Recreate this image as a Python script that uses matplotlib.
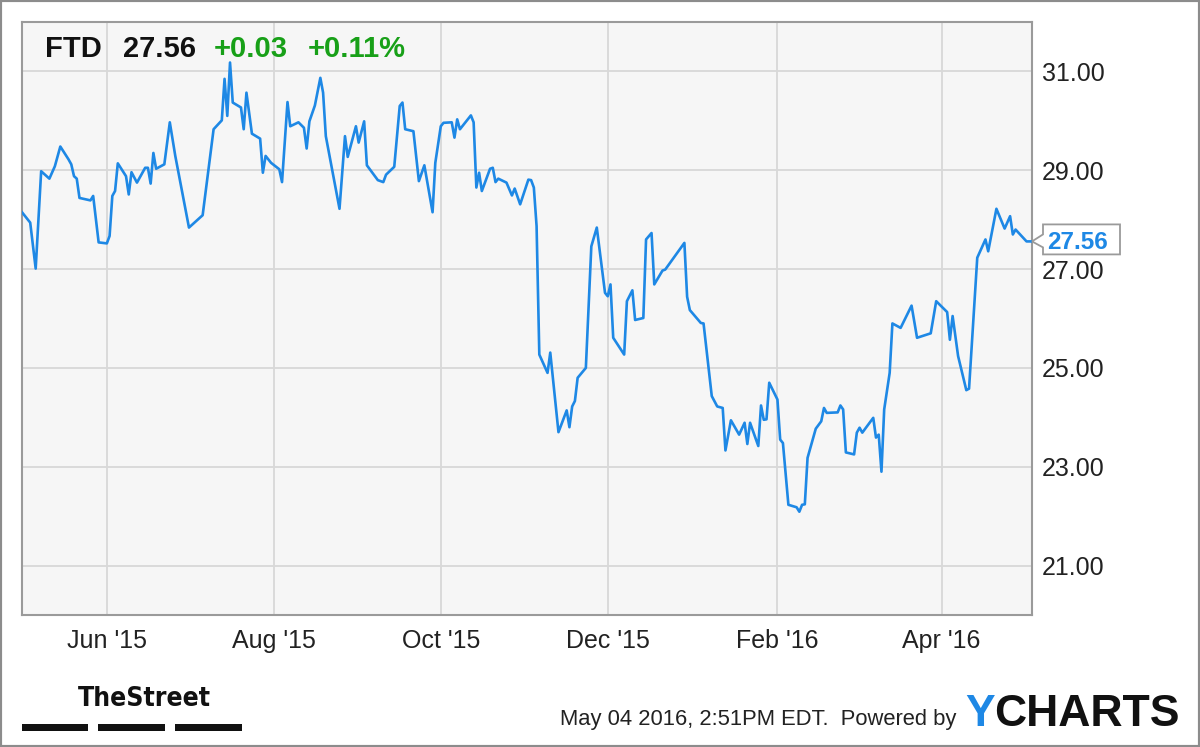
import matplotlib
matplotlib.use('Agg')
import matplotlib.pyplot as plt
import matplotlib.dates as mdates
import matplotlib.transforms as mtransforms
from matplotlib.patches import Polygon, Rectangle
import pandas as pd

plt.rcParams['font.family'] = ['Liberation Sans', 'DejaVu Sans']

# FTD daily close
dates = ['2015-05-01', '2015-05-04', '2015-05-06', '2015-05-08', '2015-05-11', '2015-05-13', '2015-05-15',
         '2015-05-18', '2015-05-19', '2015-05-20', '2015-05-21', '2015-05-22', '2015-05-26', '2015-05-27',
         '2015-05-29',
         '2015-06-01', '2015-06-02', '2015-06-03', '2015-06-04', '2015-06-05', '2015-06-08', '2015-06-09',
         '2015-06-10', '2015-06-12', '2015-06-15', '2015-06-16', '2015-06-17', '2015-06-18', '2015-06-19',
         '2015-06-22', '2015-06-24', '2015-06-26',
         '2015-07-01', '2015-07-06', '2015-07-10', '2015-07-13', '2015-07-14', '2015-07-15', '2015-07-16',
         '2015-07-17', '2015-07-20', '2015-07-21', '2015-07-22', '2015-07-24', '2015-07-27', '2015-07-28',
         '2015-07-29', '2015-07-31',
         '2015-08-03', '2015-08-04', '2015-08-06', '2015-08-07', '2015-08-10', '2015-08-12', '2015-08-13',
         '2015-08-14', '2015-08-16', '2015-08-18', '2015-08-19', '2015-08-20', '2015-08-25', '2015-08-27',
         '2015-08-28', '2015-08-31',
         '2015-09-01', '2015-09-03', '2015-09-04', '2015-09-08', '2015-09-10', '2015-09-11', '2015-09-14',
         '2015-09-16', '2015-09-17', '2015-09-18', '2015-09-21', '2015-09-23', '2015-09-25', '2015-09-28',
         '2015-09-29',
         '2015-10-01', '2015-10-02', '2015-10-05', '2015-10-06', '2015-10-07', '2015-10-08', '2015-10-12',
         '2015-10-13', '2015-10-14', '2015-10-15', '2015-10-16', '2015-10-19', '2015-10-20', '2015-10-21',
         '2015-10-22', '2015-10-25', '2015-10-27', '2015-10-28', '2015-10-30',
         '2015-11-02', '2015-11-03', '2015-11-04', '2015-11-05', '2015-11-06', '2015-11-09', '2015-11-10',
         '2015-11-13', '2015-11-16', '2015-11-17', '2015-11-18', '2015-11-19', '2015-11-20', '2015-11-23',
         '2015-11-25', '2015-11-27', '2015-11-30',
         '2015-12-01', '2015-12-02', '2015-12-03', '2015-12-07', '2015-12-08', '2015-12-10', '2015-12-11',
         '2015-12-14', '2015-12-15', '2015-12-17', '2015-12-18', '2015-12-21', '2015-12-22', '2015-12-29',
         '2015-12-30', '2015-12-31',
         '2016-01-04', '2016-01-05', '2016-01-08', '2016-01-10', '2016-01-12', '2016-01-13', '2016-01-15',
         '2016-01-18', '2016-01-20', '2016-01-21', '2016-01-22', '2016-01-25', '2016-01-26', '2016-01-27',
         '2016-01-28', '2016-01-29',
         '2016-02-01', '2016-02-02', '2016-02-03', '2016-02-05', '2016-02-08', '2016-02-09', '2016-02-10',
         '2016-02-11', '2016-02-12', '2016-02-15', '2016-02-17', '2016-02-18', '2016-02-19', '2016-02-23',
         '2016-02-24', '2016-02-25', '2016-02-26', '2016-02-29',
         '2016-03-01', '2016-03-02', '2016-03-03', '2016-03-07', '2016-03-08', '2016-03-09', '2016-03-10',
         '2016-03-11', '2016-03-13', '2016-03-14', '2016-03-17', '2016-03-21', '2016-03-23', '2016-03-28',
         '2016-03-30',
         '2016-04-03', '2016-04-04', '2016-04-05', '2016-04-07', '2016-04-10', '2016-04-11', '2016-04-13',
         '2016-04-14', '2016-04-17', '2016-04-18', '2016-04-21', '2016-04-24', '2016-04-26', '2016-04-27',
         '2016-04-28',
         '2016-05-02', '2016-05-04']

prices = [28.15, 27.94, 27.01, 28.98, 28.83, 29.08, 29.48, 29.22, 29.12, 28.88, 28.83, 28.44, 28.39, 28.48, 27.54,
          27.52, 27.67, 28.48, 28.58, 29.14, 28.88, 28.51, 28.96, 28.75, 29.05, 29.05, 28.73, 29.35, 29.03, 29.12,
          29.97, 29.29,
          27.84, 28.09, 29.83, 30.01, 30.85, 30.10, 31.18, 30.37, 30.27, 29.83, 30.57, 29.74, 29.64, 28.95, 29.29,
          29.15,
          29.02, 28.76, 30.38, 29.89, 29.97, 29.86, 29.44, 29.99, 30.31, 30.87, 30.57, 29.69, 28.22, 29.69, 29.27,
          29.89,
          29.56, 29.99, 29.10, 28.80, 28.76, 28.91, 29.07, 30.30, 30.37, 29.83, 29.79, 28.78, 29.10, 28.15, 29.15,
          29.89, 29.96, 29.97, 29.66, 30.03, 29.83, 30.11, 29.97, 28.65, 28.95, 28.58, 29.03, 29.05, 28.76, 28.83,
          28.75, 28.49, 28.63, 28.31,
          28.81, 28.80, 28.65, 27.87, 25.27, 24.90, 25.31, 23.70, 24.14, 23.80, 24.22, 24.33, 24.80, 25.00, 27.46,
          27.84, 26.52,
          26.45, 26.69, 25.61, 25.27, 26.35, 26.57, 25.97, 26.01, 27.60, 27.73, 26.69, 26.97, 26.99, 27.53, 26.44,
          26.17,
          25.91, 25.90, 24.43, 24.22, 24.19, 23.33, 23.94, 23.65, 23.89, 23.46, 23.89, 23.42, 24.24, 23.95, 23.96,
          24.70,
          24.36, 23.55, 23.48, 22.23, 22.18, 22.09, 22.23, 22.24, 23.18, 23.77, 23.92, 24.19, 24.09, 24.10, 24.24,
          24.16, 23.29, 23.25,
          23.69, 23.79, 23.69, 23.99, 23.59, 23.65, 22.90, 24.16, 24.90, 25.90, 25.81, 26.26, 25.61, 25.70, 26.35,
          26.13, 25.57, 26.05, 25.24, 24.55, 24.58, 26.35, 27.23, 27.60, 27.36, 28.22, 27.82, 28.07, 27.70, 27.80,
          27.56, 27.56]

ticker = 'FTD'
last_price = 27.56
change = '+0.03'
change_pct = '+0.11%'
yticks = [21, 23, 25, 27, 29, 31]

BLUE = '#1e88e5'
GREEN = '#18a018'

fig = plt.figure(figsize=(12, 7.47), dpi=100)
W, H = 1200, 747
ax = fig.add_axes([22 / W, 1 - 615 / H, (1032 - 22) / W, (615 - 22) / H])
ax.set_facecolor('#f6f6f6')

x = pd.to_datetime(dates)
ax.plot(x, prices, color=BLUE, lw=1.9, solid_joinstyle='round', zorder=3)

ax.set_xlim(pd.Timestamp('2015-05-01'), pd.Timestamp('2016-05-04'))
ax.set_ylim(20.0, 32.0)

ax.yaxis.tick_right()
ax.set_yticks(yticks)
ax.set_yticklabels(['%.2f' % v for v in yticks])
ax.xaxis.set_major_locator(mdates.MonthLocator(bymonth=[2, 4, 6, 8, 10, 12]))
ax.xaxis.set_major_formatter(mdates.DateFormatter("%b '%y"))
ax.tick_params(axis='both', length=0, labelsize=18, labelcolor='#222222')
ax.tick_params(axis='y', pad=7)
ax.tick_params(axis='x', pad=10)

ax.grid(True, color='#d8d8d8', lw=1.3, zorder=0)
ax.set_axisbelow(True)
for s in ax.spines.values():
    s.set_color('#9a9a9a')
    s.set_linewidth(1.5)

# price callout on the right axis, anchored at (right spine, last price)
tip = mtransforms.blended_transform_factory(ax.transAxes, ax.transData)
pts = [(0, 0), (11, 7), (11, 17), (88, 17), (88, -13), (11, -13), (11, -6)]
base = tip.transform((1.0, last_price))
poly = Polygon([(base[0] + px, base[1] + py) for px, py in pts], closed=True, facecolor='white',
               edgecolor='#9a9a9a', lw=1.3, clip_on=False, zorder=6, transform=mtransforms.IdentityTransform())
ax.add_artist(poly)
ax.annotate('%.2f' % last_price, xy=(1.0, last_price), xycoords=tip, xytext=(15 * 0.72, -0.5),
            textcoords='offset points', ha='left', va='center', fontsize=17.5, fontweight='bold',
            color=BLUE, zorder=7, annotation_clip=False)

# header
hy = 1 - 49 / H
fig.text(45 / W, hy, ticker, fontsize=21, fontweight='bold', color='#111111', va='center')
fig.text(123 / W, hy, '%.2f' % last_price, fontsize=21, fontweight='bold', color='#111111', va='center')
fig.text(214 / W, hy, change, fontsize=21, fontweight='bold', color=GREEN, va='center')
fig.text(308 / W, hy, change_pct, fontsize=21, fontweight='bold', color=GREEN, va='center')

# TheStreet logo
fig.text(78 / W, 1 - 699 / H, 'TheStreet', fontsize=19, fontweight='bold', color='#111111', va='center',
         family='DejaVu Sans', fontstretch='condensed')
for x0, x1 in [(22, 88), (98, 165), (175, 242)]:
    fig.patches.append(Rectangle((x0 / W, 1 - 731 / H), (x1 - x0) / W, 7 / H, transform=fig.transFigure,
                                 facecolor='#111111', edgecolor='none'))

# footer
fig.text(560 / W, 1 - 719 / H, 'May 04 2016, 2:51PM EDT.  Powered by', fontsize=15.8, color='#222222',
         va='center')
fig.canvas.draw()
r = fig.canvas.get_renderer()
ty = fig.text(965 / W, 1 - 714 / H, 'Y', fontsize=32, fontweight='bold', color=BLUE, va='center')
bb = ty.get_window_extent(r)
fig.text(bb.x1 / W, 1 - 714 / H, 'CHARTS', fontsize=32, fontweight='bold', color='#111111', va='center')

# outer frame
fig.patches.append(Rectangle((0, 0), 1, 1, transform=fig.transFigure, fill=False,
                             edgecolor='#8c8c8c', lw=3))

fig.savefig('out.png', dpi=100, facecolor='white')
